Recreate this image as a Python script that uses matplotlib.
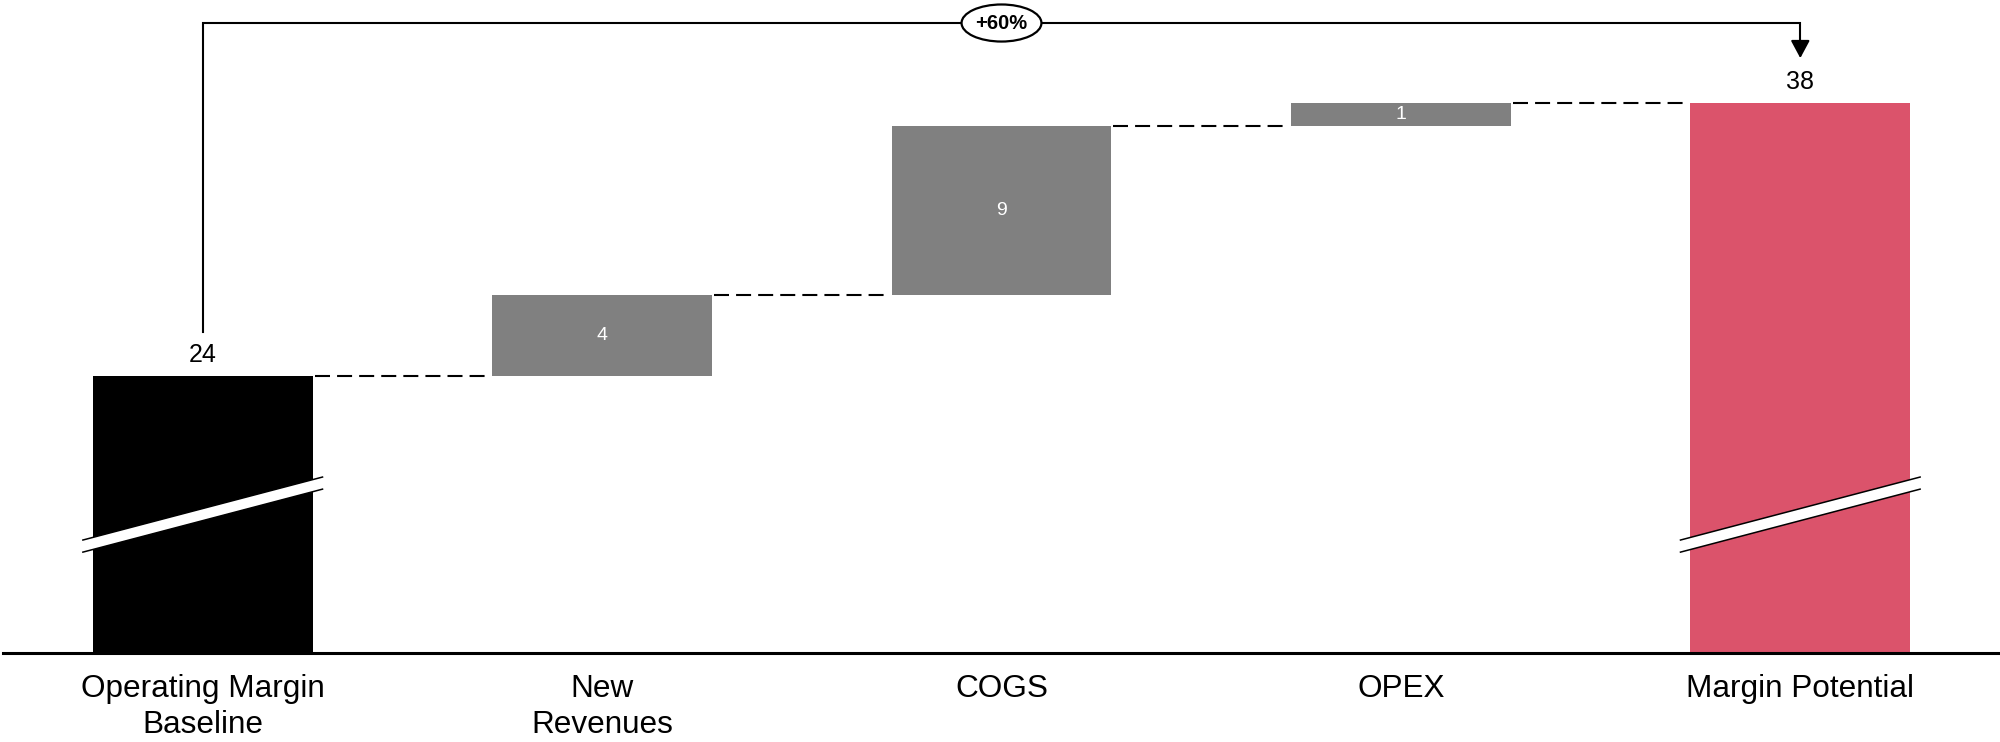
import matplotlib.pyplot as plt
from matplotlib.patches import Ellipse, Polygon

plt.rcParams["font.family"] = ["Liberation Sans", "DejaVu Sans"]

# chart data (bar labels are the rounded values)
categories = ["Operating Margin\nBaseline", "New\nRevenues", "COGS", "OPEX", "Margin Potential"]
start_value = 24
changes = [4.15, 8.67, 1.18]
end_value = 38
growth_label = "+60%"

GREY = "#808080"
RED = "#DB536B"
BAR_W = 0.55

fig = plt.figure(figsize=(20, 7.42), dpi=100)
ax = fig.add_axes([0.0015, 0.12, 0.9985, 0.88])
ax.set_xlim(-0.5, len(categories) - 0.5)
ax.set_ylim(9.8, 43.28)

# totals (start + end), drawn from 0 so the axis cut hides the lower part
last = len(categories) - 1
ax.bar(0, start_value, width=BAR_W, color="black", zorder=2)
ax.bar(last, end_value, width=BAR_W, color=RED, zorder=2)

# floating change bars
level = start_value
tops = [start_value]
for i, ch in enumerate(changes, start=1):
    ax.bar(i, ch, bottom=level, width=BAR_W, color=GREY, zorder=2)
    ax.text(i, level + ch / 2, f"{ch:.0f}", color="white", fontsize=14,
            ha="center", va="center", zorder=3)
    level += ch
    tops.append(level)
tops[-1] = end_value

# dashed connectors between bars
for i, y in enumerate(tops):
    ax.plot([i + BAR_W / 2 + 0.005, i + 1 - BAR_W / 2 - 0.005], [y, y],
            color="black", lw=1.5, ls=(0, (7.2, 3.4)), zorder=1)

# value labels above totals
for x, v in [(0, start_value), (last, end_value)]:
    ax.annotate(str(v), (x, v), xytext=(0, 15), textcoords="offset points",
                ha="center", va="center", fontsize=18)

# axis break marks on the total bars
for x in [0, last]:
    x0, x1 = x - 0.3, x + 0.3
    y0, y1 = 15.28, 18.51
    h = 0.31
    band = Polygon([(x0, y0 - h), (x1, y1 - h), (x1, y1 + h), (x0, y0 + h)],
                   closed=True, facecolor="white", edgecolor="none", zorder=4)
    ax.add_patch(band)
    ax.plot([x0, x1], [y0 + h, y1 + h], color="black", lw=1.1, zorder=5)
    ax.plot([x0, x1], [y0 - h, y1 - h], color="black", lw=1.1, zorder=5)

# growth bracket
y_top = 42.1
ax.plot([0, 0, last, last], [26.25, y_top, y_top, 40.9], color="black",
        lw=1.5, solid_joinstyle="miter", zorder=3)
ax.annotate("", xy=(last, 40.3), xytext=(last, 41.2),
            arrowprops=dict(arrowstyle="-|>,head_length=0.54,head_width=0.29",
                            mutation_scale=20, lw=1.5, color="black",
                            shrinkA=0, shrinkB=0), zorder=4)
mid = last / 2
ax.add_patch(Ellipse((mid, y_top), 0.2, 1.9, facecolor="white",
                     edgecolor="black", lw=1.6, zorder=5))
ax.text(mid, y_top, growth_label, ha="center", va="center", fontsize=14.5,
        fontweight="bold", zorder=6)

# axes styling
for side in ["top", "left", "right"]:
    ax.spines[side].set_visible(False)
ax.spines["bottom"].set_linewidth(2.2)
ax.set_yticks([])
ax.set_xticks(range(len(categories)))
ax.set_xticklabels(categories, fontsize=22.7, linespacing=1.28)
ax.tick_params(axis="x", length=0, pad=15)

fig.savefig("out.png", dpi=100)
